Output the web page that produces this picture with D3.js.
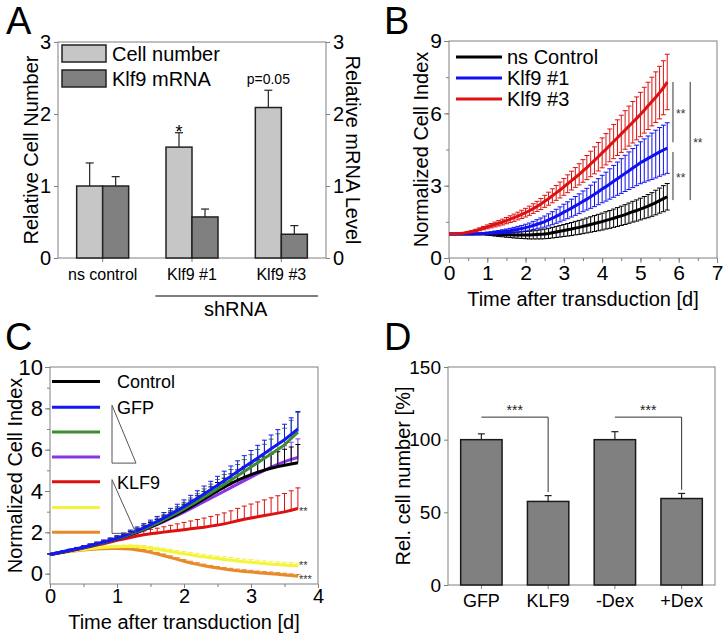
<!DOCTYPE html>
<html>
<head>
<meta charset="utf-8">
<script src="https://cdn.jsdelivr.net/npm/d3@7"></script>
<style>
  body { margin: 0; background: #fff; }
  svg { font-family: "Liberation Sans", Arial, sans-serif; }
</style>
</head>
<body>
<svg id="fig" width="724" height="634"></svg>
<script>
// ---- panel A data
const aGroups = ["ns control", "Klf9 #1", "Klf9 #3"];
const aCellNumber = [1.0, 1.54, 2.09];
const aCellNumberErr = [0.32, 0.20, 0.24];
const aMrna = [1.0, 0.57, 0.33];
const aMrnaErr = [0.13, 0.11, 0.12];
const aTicks = [0, 1, 2, 3];

// ---- panel B data (time in days)
const bTime = [0.0,0.1,0.2,0.3,0.4,0.5,0.6,0.7,0.8,0.9,1.0,1.1,1.2,1.3,1.4,1.5,1.6,1.7,1.8,1.9,
  2.0,2.1,2.2,2.3,2.4,2.5,2.6,2.7,2.8,2.9,3.0,3.1,3.2,3.3,3.4,3.5,3.6,3.7,3.8,3.9,
  4.0,4.1,4.2,4.3,4.4,4.5,4.6,4.7,4.8,4.9,5.0,5.1,5.2,5.3,5.4,5.5,5.6,5.7];
const bControl = [1.00,1.00,1.00,1.00,1.00,1.00,1.00,1.00,1.00,1.00,
  1.00,0.99,0.98,0.97,0.97,0.96,0.96,0.95,0.95,0.95,
  0.95,0.95,0.96,0.97,0.98,1.00,1.02,1.05,1.08,1.11,
  1.14,1.17,1.20,1.24,1.27,1.31,1.35,1.39,1.43,1.47,
  1.51,1.56,1.60,1.65,1.70,1.75,1.80,1.86,1.92,1.97,
  2.03,2.09,2.15,2.22,2.30,2.38,2.46,2.54];
const bControlErr = [0,0,0,0,0,0,0,0,0,0,
  0.05,0.06,0.07,0.08,0.09,0.10,0.11,0.12,0.13,0.14,
  0.15,0.16,0.17,0.18,0.19,0.20,0.21,0.22,0.23,0.24,
  0.25,0.26,0.27,0.28,0.29,0.30,0.31,0.32,0.33,0.34,
  0.35,0.36,0.37,0.38,0.39,0.40,0.41,0.42,0.43,0.44,
  0.45,0.46,0.48,0.49,0.51,0.52,0.54,0.55];
const bKlf9n1 = [1.00,1.00,1.00,1.00,1.00,1.00,1.00,1.01,1.01,1.02,
  1.03,1.04,1.06,1.07,1.09,1.11,1.13,1.16,1.19,1.22,
  1.26,1.30,1.35,1.40,1.45,1.51,1.58,1.65,1.73,1.81,
  1.90,1.98,2.07,2.16,2.25,2.35,2.44,2.54,2.64,2.75,
  2.86,2.96,3.07,3.18,3.29,3.40,3.51,3.62,3.73,3.84,
  3.95,4.04,4.13,4.22,4.31,4.40,4.48,4.56];
const bKlf9n1Err = [0,0,0,0,0,0,0.01,0.01,0.02,0.03,
  0.04,0.05,0.06,0.07,0.08,0.09,0.10,0.11,0.12,0.13,
  0.14,0.15,0.17,0.19,0.21,0.23,0.25,0.27,0.29,0.31,
  0.33,0.35,0.37,0.39,0.41,0.43,0.45,0.48,0.51,0.54,
  0.57,0.60,0.63,0.66,0.69,0.72,0.75,0.78,0.81,0.84,
  0.87,0.90,0.93,0.96,0.99,1.01,1.03,1.05];
const bKlf9n3 = [1.00,1.00,1.01,1.02,1.04,1.07,1.10,1.14,1.19,1.24,
  1.29,1.34,1.39,1.44,1.49,1.55,1.61,1.67,1.74,1.81,
  1.88,1.96,2.05,2.14,2.24,2.35,2.46,2.58,2.70,2.82,
  2.95,3.08,3.21,3.34,3.47,3.61,3.75,3.90,4.05,4.20,
  4.36,4.51,4.67,4.83,4.99,5.15,5.31,5.47,5.63,5.79,
  5.95,6.13,6.31,6.49,6.67,6.86,7.06,7.30];
const bKlf9n3Err = [0,0,0.01,0.01,0.02,0.03,0.04,0.05,0.06,0.07,
  0.08,0.09,0.10,0.11,0.12,0.13,0.14,0.15,0.16,0.17,
  0.18,0.19,0.20,0.21,0.23,0.25,0.27,0.29,0.31,0.33,
  0.35,0.37,0.39,0.41,0.44,0.47,0.50,0.53,0.56,0.59,
  0.62,0.65,0.68,0.71,0.74,0.77,0.80,0.83,0.86,0.89,
  0.92,0.95,0.98,1.01,1.05,1.09,1.12,1.15];
const bNames = ["ns Control", "Klf9 #1", "Klf9 #3"];
const bXTicks = [0, 1, 2, 3, 4, 5, 6, 7];
const bYTicks = [0, 3, 6, 9];
// significance brackets: [x day, from, to, label y]
const bSig = [[5.85, 7.3, 4.8, 6.05], [5.85, 4.4, 2.4, 3.4], [6.3, 7.3, 2.4, 4.85]];

// ---- panel C data (time in days)
const cTime = [0.0,0.1,0.2,0.3,0.4,0.5,0.6,0.7,0.8,0.9,1.0,1.1,1.2,1.3,1.4,1.5,1.6,1.7,1.8,1.9,
  2.0,2.1,2.2,2.3,2.4,2.5,2.6,2.7,2.8,2.9,3.0,3.1,3.2,3.3,3.4,3.5,3.6,3.7];
const cControl = [0.93,0.99,1.05,1.12,1.19,1.26,1.34,1.42,1.50,1.59,
  1.68,1.78,1.89,2.00,2.13,2.26,2.40,2.55,2.71,2.88,
  3.05,3.23,3.42,3.61,3.81,4.00,4.18,4.36,4.52,4.66,
  4.79,4.91,5.01,5.10,5.18,5.25,5.31,5.37];
const cControlErr = [0.02,0.03,0.04,0.05,0.06,0.07,0.08,0.09,0.10,0.11,
  0.12,0.13,0.15,0.17,0.19,0.21,0.23,0.25,0.27,0.29,
  0.31,0.33,0.35,0.37,0.39,0.41,0.44,0.47,0.50,0.53,
  0.56,0.60,0.64,0.68,0.72,0.77,0.82,0.88];
const cGfp = [0.93,1.00,1.07,1.14,1.21,1.28,1.36,1.44,1.53,1.62,
  1.72,1.83,1.95,2.08,2.22,2.37,2.53,2.70,2.88,3.06,
  3.25,3.45,3.65,3.86,4.07,4.28,4.50,4.72,4.94,5.16,
  5.38,5.60,5.82,6.04,6.26,6.48,6.74,7.00];
const cGfpErr = [0.02,0.03,0.04,0.05,0.06,0.07,0.08,0.09,0.10,0.11,
  0.12,0.14,0.16,0.18,0.20,0.22,0.24,0.26,0.28,0.30,
  0.32,0.34,0.36,0.38,0.40,0.43,0.46,0.49,0.52,0.55,
  0.58,0.61,0.64,0.67,0.71,0.75,0.80,0.85];
const cGreen = [0.93,1.00,1.06,1.13,1.20,1.27,1.35,1.43,1.51,1.60,
  1.70,1.80,1.91,2.03,2.16,2.30,2.45,2.61,2.78,2.95,
  3.13,3.32,3.51,3.71,3.91,4.11,4.32,4.53,4.74,4.95,
  5.16,5.37,5.58,5.79,6.01,6.23,6.54,6.85];
const cGreenErr = [0.02,0.03,0.04,0.05,0.06,0.07,0.08,0.09,0.10,0.11,
  0.12,0.14,0.16,0.18,0.20,0.22,0.24,0.26,0.28,0.30,
  0.32,0.34,0.36,0.39,0.42,0.45,0.48,0.51,0.54,0.57,
  0.60,0.64,0.68,0.72,0.76,0.81,0.88,0.95];
const cPurple = [0.93,0.99,1.05,1.11,1.18,1.25,1.33,1.41,1.49,1.58,
  1.67,1.77,1.88,1.99,2.11,2.24,2.38,2.52,2.67,2.82,
  2.98,3.14,3.31,3.48,3.65,3.82,3.99,4.16,4.33,4.50,
  4.67,4.84,5.00,5.15,5.29,5.42,5.53,5.62];
const cPurpleErr = [0.02,0.03,0.04,0.05,0.06,0.07,0.08,0.09,0.10,0.11,
  0.12,0.13,0.15,0.17,0.19,0.21,0.23,0.25,0.27,0.29,
  0.31,0.33,0.35,0.37,0.39,0.41,0.44,0.47,0.50,0.53,
  0.56,0.60,0.64,0.68,0.72,0.77,0.83,0.90];
const cKlf9 = [0.93,0.99,1.05,1.11,1.17,1.24,1.31,1.38,1.45,1.53,
  1.61,1.68,1.75,1.82,1.88,1.93,1.97,2.01,2.05,2.09,
  2.13,2.17,2.21,2.25,2.30,2.35,2.41,2.48,2.56,2.63,
  2.69,2.75,2.81,2.87,2.93,2.99,3.07,3.15];
const cKlf9Err = [0.01,0.02,0.03,0.04,0.05,0.06,0.07,0.08,0.09,0.10,
  0.11,0.13,0.15,0.17,0.19,0.21,0.23,0.26,0.29,0.32,
  0.35,0.38,0.41,0.44,0.47,0.50,0.53,0.56,0.60,0.64,
  0.68,0.72,0.76,0.80,0.84,0.89,0.94,1.00];
const cYellow = [0.93,0.98,1.03,1.08,1.13,1.17,1.21,1.24,1.27,1.29,
  1.30,1.31,1.31,1.30,1.27,1.23,1.18,1.13,1.07,1.01,
  0.96,0.91,0.86,0.82,0.77,0.73,0.69,0.65,0.61,0.58,
  0.55,0.52,0.49,0.46,0.44,0.42,0.40,0.38];
const cYellowErr = [0.02,0.02,0.03,0.03,0.04,0.04,0.05,0.05,0.06,0.06,
  0.07,0.07,0.08,0.08,0.09,0.09,0.10,0.10,0.10,0.11,
  0.11,0.11,0.12,0.12,0.12,0.12,0.13,0.13,0.13,0.13,
  0.13,0.13,0.13,0.13,0.13,0.13,0.13,0.13];
const cOrange = [0.93,0.98,1.03,1.07,1.11,1.14,1.17,1.19,1.21,1.22,
  1.22,1.21,1.19,1.15,1.10,1.03,0.95,0.87,0.78,0.69,
  0.60,0.52,0.45,0.38,0.32,0.27,0.22,0.18,0.14,0.11,
  0.08,0.05,0.02,0.00,-0.03,-0.06,-0.09,-0.12];
const cOrangeErr = [0.02,0.02,0.03,0.03,0.04,0.04,0.05,0.05,0.05,0.06,
  0.06,0.06,0.07,0.07,0.07,0.08,0.08,0.08,0.08,0.08,
  0.08,0.08,0.08,0.08,0.08,0.08,0.08,0.08,0.08,0.08,
  0.08,0.08,0.08,0.08,0.08,0.08,0.08,0.08];
const cLegendY = [9.3, 8.05, 6.85, 5.65, 4.45, 3.2, 2.0];
const cXTicks = [0, 1, 2, 3, 4];
const cYTicks = [0, 2, 4, 6, 8, 10];
const cStars = [["**", 3.15], ["**", 0.5], ["***", -0.14]];

// ---- panel D data
const dGroups = ["GFP", "KLF9", "-Dex", "+Dex"];
const dValues = [100, 57.5, 100, 59.5];
const dErr = [4, 4, 5.5, 3.5];
const dTicks = [0, 50, 100, 150];
const dSig = [["GFP", "KLF9", 115.5, 64], ["-Dex", "+Dex", 115.5, 65.5]];

const svg = d3.select("#fig");
svg.append("rect").attr("width", 724).attr("height", 634).attr("fill", "#fff");

const axisGray = "#808080";
const intFmt = d3.format("d");

function frame(x0, x1, y0, y1) {
  svg.append("rect")
    .attr("x", x0).attr("y", y1)
    .attr("width", x1 - x0).attr("height", y0 - y1)
    .attr("fill", "none").attr("stroke", axisGray).attr("stroke-width", 1);
}

function styleAxis(g, size) {
  g.select(".domain").remove();
  g.selectAll(".tick line").attr("stroke", axisGray);
  g.selectAll(".tick text").attr("fill", "#000")
    .style("font-size", size + "px").style("font-family", "Liberation Sans, Arial, sans-serif");
}

function letter(txt, x, y) {
  svg.append("text").attr("x", x).attr("y", y).text(txt)
    .style("font-size", "38px");
}

// ================= A =================
const ax = d3.scaleBand().domain(aGroups).range([58, 326]);
const ay = d3.scaleLinear().domain([0, 3]).range([258, 42]);
const aBarW = 26;
frame(58, 326, 258, 42);
svg.append("g").attr("transform", "translate(58,0)")
  .call(d3.axisLeft(ay).tickValues(aTicks).tickFormat(intFmt).tickSize(4).tickPadding(3))
  .call(g => styleAxis(g, 20));
svg.append("g").attr("transform", "translate(326,0)")
  .call(d3.axisRight(ay).tickValues(aTicks).tickFormat(intFmt).tickSize(4).tickPadding(3))
  .call(g => styleAxis(g, 20));
svg.append("g").attr("transform", "translate(0,258)")
  .call(d3.axisBottom(ax).tickSize(4).tickPadding(7))
  .call(g => styleAxis(g, 16));

const aSeries = [
  { vals: aCellNumber, errs: aCellNumberErr, fill: "#c6c6c6", off: -aBarW },
  { vals: aMrna, errs: aMrnaErr, fill: "#808080", off: 0 }
];
aSeries.forEach(s => {
  aGroups.forEach((grp, i) => {
    const cx = ax(grp) + ax.bandwidth() / 2 + s.off;
    const mid = cx + aBarW / 2;
    const top = ay(s.vals[i] + s.errs[i]);
    svg.append("line").attr("x1", mid).attr("x2", mid)
      .attr("y1", ay(s.vals[i])).attr("y2", top).attr("stroke", "#222").attr("stroke-width", 1.2);
    svg.append("line").attr("x1", mid - 4).attr("x2", mid + 4)
      .attr("y1", top).attr("y2", top).attr("stroke", "#222").attr("stroke-width", 1.2);
    svg.append("rect").attr("x", cx).attr("y", ay(s.vals[i]))
      .attr("width", aBarW).attr("height", ay(0) - ay(s.vals[i]))
      .attr("fill", s.fill).attr("stroke", "#222").attr("stroke-width", 1.5);
  });
});
svg.append("text").attr("x", ax("Klf9 #1") + ax.bandwidth() / 2 - aBarW / 2)
  .attr("y", ay(aCellNumber[1] + aCellNumberErr[1]) + 5)
  .attr("text-anchor", "middle").style("font-size", "18px").text("*");
svg.append("text").attr("x", ax("Klf9 #3") + ax.bandwidth() / 2 - aBarW / 2)
  .attr("y", ay(aCellNumber[2] + aCellNumberErr[2]) - 6)
  .attr("text-anchor", "middle").style("font-size", "14px").text("p=0.05");

// legend A
[["Cell number", "#c6c6c6"], ["Klf9 mRNA", "#808080"]].forEach((d, i) => {
  svg.append("rect").attr("x", 62).attr("y", 45 + i * 25).attr("width", 44).attr("height", 17)
    .attr("fill", d[1]).attr("stroke", "#222").attr("stroke-width", 1.5);
  svg.append("text").attr("x", 112).attr("y", 61 + i * 25).text(d[0]).style("font-size", "20px");
});
svg.append("text").attr("transform", `translate(38,${(42 + 258) / 2}) rotate(-90)`)
  .attr("text-anchor", "middle").style("font-size", "20px").text("Relative Cell Number");
svg.append("text").attr("transform", `translate(346,${(42 + 258) / 2}) rotate(90)`)
  .attr("text-anchor", "middle").style("font-size", "20px").text("Relative mRNA Level");
svg.append("line").attr("x1", ax("Klf9 #1") + 8).attr("x2", ax("Klf9 #3") + ax.bandwidth() - 8)
  .attr("y1", 296).attr("y2", 296).attr("stroke", "#000").attr("stroke-width", 1.2);
svg.append("text").attr("x", ax("Klf9 #3") - 1).attr("y", 316)
  .attr("text-anchor", "middle").style("font-size", "20px").text("shRNA");
letter("A", 6, 34);

// ================= B =================
const bx = d3.scaleLinear().domain([0, 7]).range([449, 717]);
const by = d3.scaleLinear().domain([0, 9]).range([258, 41]);
frame(449, 717, 258, 41);
svg.append("g").attr("transform", "translate(0,258)")
  .call(d3.axisBottom(bx).tickValues(d3.range(0, 7.01, 0.5)).tickSize(3).tickFormat(""))
  .call(g => styleAxis(g, 19));
svg.append("g").attr("transform", "translate(0,258)")
  .call(d3.axisBottom(bx).tickValues(bXTicks).tickFormat(intFmt).tickSize(5).tickPadding(2))
  .call(g => styleAxis(g, 21));
svg.append("g").attr("transform", "translate(449,0)")
  .call(d3.axisLeft(by).tickValues(d3.range(0, 9.01, 1.5)).tickSize(3).tickFormat(""))
  .call(g => styleAxis(g, 19));
svg.append("g").attr("transform", "translate(449,0)")
  .call(d3.axisLeft(by).tickValues(bYTicks).tickFormat(intFmt).tickSize(5).tickPadding(2))
  .call(g => styleAxis(g, 21));

const bSeries = [
  { name: bNames[0], vals: bControl, errs: bControlErr, color: "#000000" },
  { name: bNames[1], vals: bKlf9n1, errs: bKlf9n1Err, color: "#1010f0" },
  { name: bNames[2], vals: bKlf9n3, errs: bKlf9n3Err, color: "#dd1111" }
];
const bLine = d3.line().x((d, i) => bx(bTime[i])).y(d => by(d));
bSeries.forEach(s => {
  const g = svg.append("g").attr("stroke", s.color).attr("stroke-width", 1);
  s.vals.forEach((v, i) => {
    const e = s.errs[i];
    if (e <= 0) return;
    const x = bx(bTime[i]);
    g.append("line").attr("x1", x).attr("x2", x).attr("y1", by(v - e)).attr("y2", by(v + e));
    g.append("line").attr("x1", x - 2.5).attr("x2", x + 2.5).attr("y1", by(v + e)).attr("y2", by(v + e));
    g.append("line").attr("x1", x - 2.5).attr("x2", x + 2.5).attr("y1", by(v - e)).attr("y2", by(v - e));
  });
  svg.append("path").datum(s.vals).attr("d", bLine)
    .attr("fill", "none").attr("stroke", s.color).attr("stroke-width", 3);
});
bSig.forEach(d => {
  svg.append("line").attr("x1", bx(d[0])).attr("x2", bx(d[0]))
    .attr("y1", by(d[1])).attr("y2", by(d[2])).attr("stroke", "#333").attr("stroke-width", 1);
  svg.append("text").attr("x", bx(d[0]) + 3).attr("y", by(d[3]) + 6)
    .style("font-size", "12px").attr("fill", "#333").text("**");
});
bSeries.forEach((s, i) => {
  const ly = 57 + i * 21;
  svg.append("line").attr("x1", 456).attr("x2", 502).attr("y1", ly).attr("y2", ly)
    .attr("stroke", s.color).attr("stroke-width", 3);
  svg.append("text").attr("x", 507).attr("y", ly + 7).style("font-size", "20px").text(s.name);
});
svg.append("text").attr("transform", `translate(428,${(41 + 258) / 2}) rotate(-90)`)
  .attr("text-anchor", "middle").style("font-size", "20px").text("Normalized Cell Index");
svg.append("text").attr("x", 583).attr("y", 306)
  .attr("text-anchor", "middle").style("font-size", "20px").text("Time after transduction [d]");
letter("B", 384, 34);

// ================= C =================
const cx = d3.scaleLinear().domain([0, 4]).range([50, 318]);
const cy = d3.scaleLinear().domain([-0.5, 10]).range([584, 367]);
frame(50, 318, 584, 367);
svg.append("g").attr("transform", "translate(0,584)")
  .call(d3.axisBottom(cx).tickValues(d3.range(0, 4.01, 0.5)).tickSize(3).tickFormat(""))
  .call(g => styleAxis(g, 19));
svg.append("g").attr("transform", "translate(0,584)")
  .call(d3.axisBottom(cx).tickValues(cXTicks).tickFormat(intFmt).tickSize(4).tickPadding(1))
  .call(g => styleAxis(g, 20));
svg.append("g").attr("transform", "translate(50,0)")
  .call(d3.axisLeft(cy).tickValues(d3.range(0, 10.01, 1)).tickSize(3).tickFormat(""))
  .call(g => styleAxis(g, 19));
svg.append("g").attr("transform", "translate(50,0)")
  .call(d3.axisLeft(cy).tickValues(cYTicks).tickFormat(intFmt).tickSize(5).tickPadding(2))
  .call(g => styleAxis(g, 22));

const cSeries = [
  { vals: cOrange, errs: cOrangeErr, color: "#e8892b" },
  { vals: cYellow, errs: cYellowErr, color: "#f4f43a" },
  { vals: cKlf9, errs: cKlf9Err, color: "#dd1111" },
  { vals: cPurple, errs: cPurpleErr, color: "#8a35e6" },
  { vals: cControl, errs: cControlErr, color: "#000000" },
  { vals: cGreen, errs: cGreenErr, color: "#3c8c32" },
  { vals: cGfp, errs: cGfpErr, color: "#1515f5" }
];
const cLine = d3.line().x((d, i) => cx(cTime[i])).y(d => cy(d));
cSeries.forEach(s => {
  const g = svg.append("g").attr("stroke", s.color).attr("stroke-width", 1);
  s.vals.forEach((v, i) => {
    const x = cx(cTime[i]);
    const t = cy(v + s.errs[i]);
    g.append("line").attr("x1", x).attr("x2", x).attr("y1", cy(v)).attr("y2", t);
    g.append("line").attr("x1", x - 2.5).attr("x2", x + 2.5).attr("y1", t).attr("y2", t);
  });
  svg.append("path").datum(s.vals).attr("d", cLine)
    .attr("fill", "none").attr("stroke", s.color).attr("stroke-width", 3);
});
// legend C (top to bottom)
const cLegendColors = ["#000000", "#1515f5", "#3c8c32", "#8a35e6", "#dd1111", "#f4f43a", "#e8892b"];
cLegendColors.forEach((c, i) => {
  svg.append("line").attr("x1", 52).attr("x2", 100)
    .attr("y1", cy(cLegendY[i])).attr("y2", cy(cLegendY[i]))
    .attr("stroke", c).attr("stroke-width", 3);
});
svg.append("text").attr("x", 117).attr("y", cy(cLegendY[0]) + 7).style("font-size", "18px").text("Control");
svg.append("text").attr("x", 117).attr("y", cy(cLegendY[1]) + 7).style("font-size", "18px").text("GFP");
svg.append("text").attr("x", 117).attr("y", cy(cLegendY[4]) + 7).style("font-size", "18px").text("KLF9");
[[cLegendY[1] + 0.1, cLegendY[3] - 0.3], [cLegendY[4] + 0.1, cLegendY[6] - 0.05]].forEach(d => {
  const top = cy(d[0]), bot = cy(d[1]);
  svg.append("path")
    .attr("d", `M112,${top} L112,${bot} L136,${bot} Z`)
    .attr("fill", "none").attr("stroke", "#555").attr("stroke-width", 1);
});
cStars.forEach(d => {
  svg.append("text").attr("x", 299).attr("y", cy(d[1]) + 6)
    .style("font-size", "11px").attr("fill", "#333").text(d[0]);
});
svg.append("text").attr("transform", `translate(22,${(367 + 584) / 2}) rotate(-90)`)
  .attr("text-anchor", "middle").style("font-size", "20px").text("Normalized Cell Index");
svg.append("text").attr("x", 184).attr("y", 629)
  .attr("text-anchor", "middle").style("font-size", "20px").text("Time after transduction [d]");
letter("C", 5, 350);

// ================= D =================
const dx = d3.scaleBand().domain(dGroups).range([448, 715]).paddingInner(0.38).paddingOuter(0.19);
const dy = d3.scaleLinear().domain([0, 150]).range([585, 367]);
frame(448, 715, 585, 367);
svg.append("g").attr("transform", "translate(448,0)")
  .call(d3.axisLeft(dy).tickValues(dTicks).tickFormat(intFmt).tickSize(4).tickPadding(3))
  .call(g => styleAxis(g, 19));
svg.append("g").attr("transform", "translate(0,585)")
  .call(d3.axisBottom(dx).tickSize(4).tickPadding(5))
  .call(g => styleAxis(g, 18));
dGroups.forEach((grp, i) => {
  const mid = dx(grp) + dx.bandwidth() / 2;
  const top = dy(dValues[i] + dErr[i]);
  svg.append("line").attr("x1", mid).attr("x2", mid).attr("y1", dy(dValues[i])).attr("y2", top)
    .attr("stroke", "#222").attr("stroke-width", 1.2);
  svg.append("line").attr("x1", mid - 3.5).attr("x2", mid + 3.5).attr("y1", top).attr("y2", top)
    .attr("stroke", "#222").attr("stroke-width", 1.2);
  svg.append("rect").attr("x", dx(grp)).attr("y", dy(dValues[i]))
    .attr("width", dx.bandwidth()).attr("height", dy(0) - dy(dValues[i]))
    .attr("fill", "#808080").attr("stroke", "#1a1a1a").attr("stroke-width", 1.5);
});
dSig.forEach(d => {
  const x1 = dx(d[0]) + dx.bandwidth() / 2, x2 = dx(d[1]) + dx.bandwidth() / 2;
  svg.append("path").attr("d", `M${x1},${dy(d[2])} L${x2},${dy(d[2])} L${x2},${dy(d[3])}`)
    .attr("fill", "none").attr("stroke", "#333").attr("stroke-width", 1);
  svg.append("text").attr("x", (x1 + x2) / 2).attr("y", dy(d[2]) - 2)
    .attr("text-anchor", "middle").style("font-size", "14px").attr("fill", "#222").text("***");
});
svg.append("text").attr("transform", `translate(410,${(367 + 585) / 2}) rotate(-90)`)
  .attr("text-anchor", "middle").style("font-size", "20px").text("Rel. cell number [%]");
letter("D", 384, 350);
</script>
</body>
</html>
